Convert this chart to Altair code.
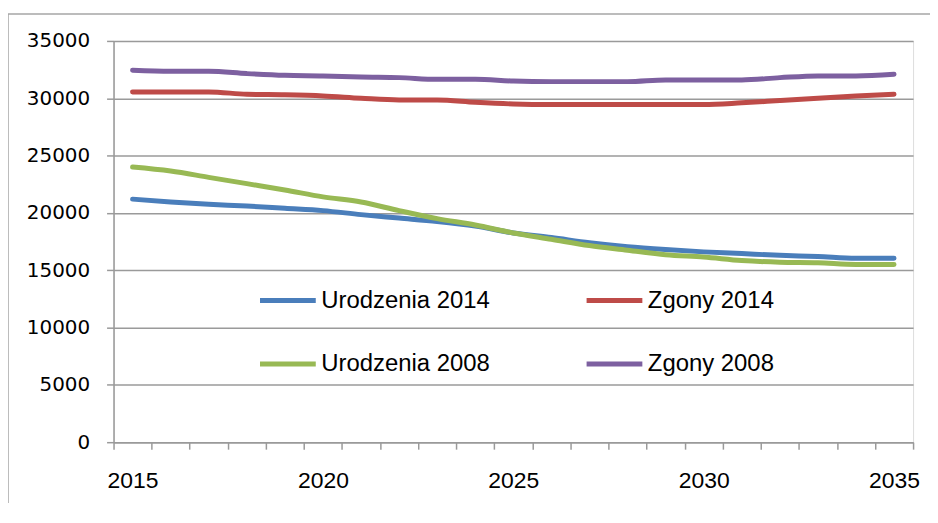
import altair as alt
import pandas as pd

years = list(range(2015, 2036))
series_names = ["Urodzenia 2014", "Zgony 2014", "Urodzenia 2008", "Zgony 2008"]
series_colors = ["#4A7EBB", "#BE4B48", "#98B954", "#7D60A0"]

urodzenia_2014 = [21200, 20950, 20750, 20600, 20400, 20200, 19850, 19550, 19250, 18850, 18250,
                  17850, 17400, 17050, 16800, 16600, 16450, 16300, 16200, 16050, 16050]
zgony_2014 = [30550, 30550, 30550, 30350, 30300, 30200, 30000, 29850, 29850, 29650, 29500,
              29450, 29450, 29450, 29450, 29450, 29600, 29800, 30000, 30200, 30350]
urodzenia_2008 = [24000, 23650, 23100, 22550, 22000, 21400, 20950, 20200, 19500, 18950, 18250,
                  17700, 17150, 16750, 16350, 16150, 15850, 15700, 15650, 15500, 15500]
zgony_2008 = [32450, 32350, 32350, 32150, 32000, 31950, 31850, 31800, 31650, 31650, 31500,
              31450, 31450, 31450, 31600, 31600, 31600, 31800, 31950, 31950, 32100]

y_ticks = [0, 5000, 10000, 15000, 20000, 25000, 30000, 35000]
x_tick_bounds = [y - 0.5 for y in years] + [years[-1] + 0.5]

all_series = [urodzenia_2014, zgony_2014, urodzenia_2008, zgony_2008]
rows = []
for name, vals in zip(series_names, all_series):
    for yr, v in zip(years, vals):
        rows.append({"year": yr, "value": v, "series": name})
df = pd.DataFrame(rows)

W, H = 803, 403
band = W / len(years)
grid_col = "#9a9a9a"

lines = alt.Chart(df).mark_line(
    strokeWidth=5, strokeCap="round", strokeJoin="round", interpolate="monotone"
).encode(
    x=alt.X("year:Q",
            scale=alt.Scale(domain=[years[0] - 0.5, years[-1] + 0.5], nice=False, zero=False),
            axis=alt.Axis(values=x_tick_bounds,
                          labelExpr="(datum.value + 0.5) % 5 == 0 ? '' + (datum.value + 0.5) : ''",
                          labelOffset=band / 2, labelOverlap=False, labelFlush=False, labelBound=False,
                          tickSize=7, tickColor=grid_col, tickWidth=1.5,
                          domainColor=grid_col, domainWidth=1.5,
                          labelFont="Liberation Sans", labelFontSize=23, labelColor="#000000",
                          labelPadding=21, grid=False, title=None)),
    y=alt.Y("value:Q",
            scale=alt.Scale(domain=[0, 35000], nice=False),
            axis=alt.Axis(values=y_ticks, format="d", grid=True, gridColor=grid_col, gridWidth=1.5,
                          tickSize=7, tickColor=grid_col, tickWidth=1.5,
                          domainColor=grid_col, domainWidth=1.5,
                          labelFont="DejaVu Sans", labelFontSize=20, labelColor="#000000",
                          labelPadding=17, title=None)),
    color=alt.Color("series:N",
                    scale=alt.Scale(domain=series_names, range=series_colors),
                    legend=alt.Legend(title=None, orient="none", legendX=144.6, legendY=230,
                                      direction="horizontal",
                                      columns=2, symbolType="stroke", symbolSize=3136,
                                      symbolStrokeWidth=5, labelFont="Liberation Sans",
                                      labelFontSize=24, labelColor="#000000", labelOffset=3,
                                      labelLimit=400,
                                      columnPadding=86, rowPadding=21, padding=0)),
    order=alt.Order("series_order:Q"),
).transform_calculate(
    series_order="indexof(" + str(series_names) + ", datum.series)"
)

frame_df = pd.DataFrame({"k": [0]})
frame_left = alt.Chart(frame_df).mark_rule(color="#a6a6a6", strokeWidth=1.5).encode(
    x=alt.value(-106), y=alt.value(-27), y2=alt.value(600))
frame_top = alt.Chart(frame_df).mark_rule(color="#a6a6a6", strokeWidth=1.5).encode(
    x=alt.value(-106), x2=alt.value(900), y=alt.value(-27))

chart = alt.layer(frame_left, frame_top, lines).properties(
    width=W, height=H,
    autosize=alt.AutoSizeParams(type="none"),
    padding={"left": 106, "top": 32, "right": 17, "bottom": 60},
).configure_view(strokeWidth=0).configure(background="#ffffff")

chart.save("out.html", embed_options={"renderer": "svg", "actions": False})
